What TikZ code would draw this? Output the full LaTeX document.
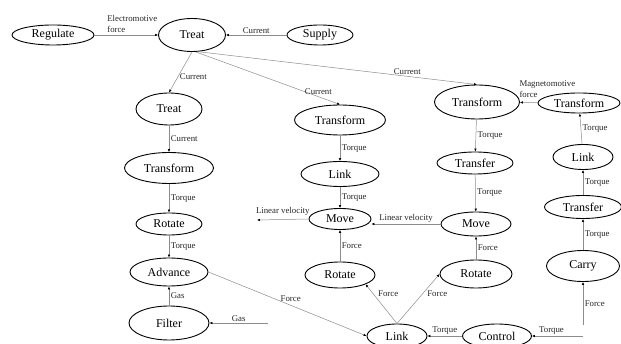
\documentclass[tikz,border=0pt]{standalone}
\usepackage{fontspec}
\setmainfont{Liberation Serif}
\usetikzlibrary{shapes.geometric,arrows.meta}
\tikzstyle{funcnode} = [draw=black, ellipse, line width=0.9pt, inner sep=0pt,
    font=\fontsize{12}{14}\selectfont]
\tikzstyle{flowline} = [draw=black!45, line width=0.5pt,
    -{Latex[length=3pt,width=2.6pt,color=black]}]
\tikzstyle{flowlabel} = [font=\fontsize{8.8}{11}\selectfont, text=black!85, inner sep=1.5pt]

\begin{document}
\begin{tikzpicture}[x=1pt,y=-1pt]
                \useasboundingbox (0,0) rectangle (621,344);
                % left part
                \node[funcnode, minimum width=82pt, minimum height=20pt] (regulate) at (53,35) {Regulate};
                \node[funcnode, minimum width=67pt, minimum height=33pt] (treatA) at (192,35) {Treat};
                \node[funcnode, minimum width=66pt, minimum height=20pt] (supply) at (320,35) {Supply};
                \node[funcnode, minimum width=66pt, minimum height=32pt] (treatB) at (169,109) {Treat};
                \node[funcnode, minimum width=89pt, minimum height=31pt] (transformA) at (169,168) {Transform};
                \node[funcnode, minimum width=66pt, minimum height=22pt] (rotateA) at (169,224) {Rotate};
                \node[funcnode, minimum width=78pt, minimum height=28pt] (advance) at (169,272) {Advance};
                \node[funcnode, minimum width=80pt, minimum height=34pt] (filter) at (169,323) {Filter};
                % middle part
                \node[funcnode, minimum width=91pt, minimum height=30pt] (transformB) at (340,120) {Transform};
                \node[funcnode, minimum width=78pt, minimum height=25pt] (linkB) at (340,174) {Link};
                \node[funcnode, minimum width=62pt, minimum height=21pt] (moveB) at (340,219) {Move};
                \node[funcnode, minimum width=70pt, minimum height=26pt] (rotateB) at (340,275) {Rotate};
                \node[funcnode, minimum width=60pt, minimum height=24pt] (linkC) at (397,336) {Link};
                \node[funcnode, minimum width=69pt, minimum height=24pt] (control) at (497,336) {Control};
                \node[funcnode, minimum width=85pt, minimum height=34pt] (transformC) at (477,102) {Transform};
                \node[funcnode, minimum width=76pt, minimum height=22pt] (transferC) at (475,163) {Transfer};
                \node[funcnode, minimum width=70pt, minimum height=24pt] (moveC) at (476,224) {Move};
                \node[funcnode, minimum width=72pt, minimum height=28pt] (rotateC) at (476,274) {Rotate};
                % right part
                \node[funcnode, minimum width=82pt, minimum height=20pt] (transformD) at (579,103) {Transform};
                \node[funcnode, minimum width=60pt, minimum height=25pt] (linkD) at (583,157) {Link};
                \node[funcnode, minimum width=77pt, minimum height=23pt] (transferD) at (583,207) {Transfer};
                \node[funcnode, minimum width=73pt, minimum height=31pt] (carry) at (583,266) {Carry};
                % free ends
                \coordinate (gasIn) at (268,323);
                \coordinate (velOut) at (257,220);
                \coordinate (forceIn) at (583,325);
                \coordinate (torqueIn) at (583,336);

                \draw[flowline] (regulate) -- node[flowlabel, above, align=left, xshift=6pt, yshift=1pt] {Electromotive\\force} (treatA);
                \draw[flowline] (supply) -- node[flowlabel, above] {Current} (treatA);
                \draw[flowline] (treatA.south) -- node[flowlabel, right, pos=0.6] {Current} (treatB.north);
                \draw[flowline] (treatA.-78) -- node[flowlabel, above, pos=0.85] {Current} (transformB.north);
                \draw[flowline] (treatA.-70) -- node[flowlabel, above, pos=0.75] {Current} (transformC.north);
                \draw[flowline] (treatB) -- node[flowlabel, right] {Current} (transformA);
                \draw[flowline] (transformA) -- node[flowlabel, right] {Torque} (rotateA);
                \draw[flowline] (rotateA) -- node[flowlabel, right] {Torque} (advance);
                \draw[flowline] (filter) -- node[flowlabel, right] {Gas} (advance);
                \draw[flowline] (gasIn) -- node[flowlabel, above] {Gas} (filter.east);
                \draw[flowline] (advance.east) -- node[flowlabel, above, pos=0.52, yshift=2pt] {Force} (linkC.west);
                \draw[flowline] (transformB) -- node[flowlabel, right] {Torque} (linkB);
                \draw[flowline] (linkB) -- node[flowlabel, right] {Torque} (moveB);
                \draw[flowline] (moveB.west) -- node[flowlabel, above, yshift=2pt] {Linear velocity} (velOut);
                \draw[flowline] (rotateB) -- node[flowlabel, right] {Force} (moveB);
                \draw[flowline] (linkC.north) -- node[flowlabel, right, pos=0.75, xshift=3pt] {Force} (rotateB.-20);
                \draw[flowline] (linkC.north) -- node[flowlabel, right, pos=0.6, xshift=3pt] {Force} (rotateC.west);
                \draw[flowline] (rotateC) -- node[flowlabel, right] {Force} (moveC);
                \draw[flowline] (moveC.west) -- node[flowlabel, above] {Linear velocity} (moveC.west -| moveB.east);
                \draw[flowline] (transformC) -- node[flowlabel, right] {Torque} (transferC);
                \draw[flowline] (transferC) -- node[flowlabel, right] {Torque} (moveC);
                \draw[flowline] (transformD) -- node[flowlabel, above right, xshift=-11pt, yshift=3pt, align=left] {Magnetomotive\\force} (transformC);
                \draw[flowline] (control) -- node[flowlabel, above] {Torque} (linkC);
                \draw[flowline] (torqueIn) -- node[flowlabel, above, xshift=-6pt] {Torque} (control.east);
                \draw[flowline] (forceIn) -- node[flowlabel, right] {Force} (carry.south);
                \draw[flowline] (carry) -- node[flowlabel, right] {Torque} (transferD);
                \draw[flowline] (transferD) -- node[flowlabel, right] {Torque} (linkD);
                \draw[flowline] (linkD) -- node[flowlabel, right] {Torque} (transformD);
            \end{tikzpicture}
\end{document}
